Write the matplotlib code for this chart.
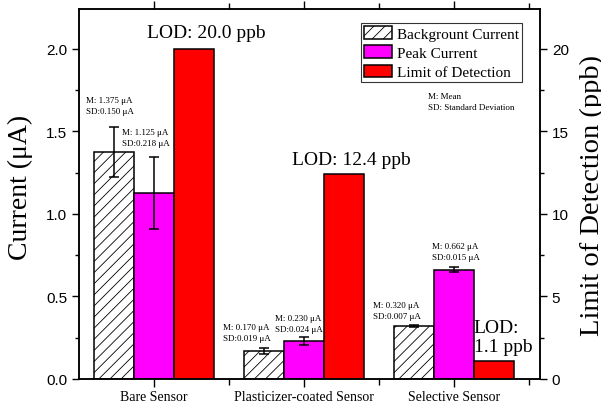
import numpy as np
import matplotlib
matplotlib.use("Agg")
import matplotlib.pyplot as plt
from matplotlib.ticker import MultipleLocator, FixedLocator

# data
sensors = ["Bare Sensor", "Plasticizer-coated Sensor", "Selective Sensor"]
bg_mean = [1.375, 0.170, 0.320]
bg_sd = [0.150, 0.019, 0.007]
peak_mean = [1.125, 0.230, 0.662]
peak_sd = [0.218, 0.024, 0.015]
lod = [20.0, 12.4, 1.1]

serif = "Liberation Serif"
sans = "Liberation Sans"
plt.rcParams["hatch.linewidth"] = 0.6
plt.rcParams["hatch.color"] = "#333333"

fig = plt.figure(figsize=(6.01, 4.02), dpi=100)
ax1 = fig.add_axes([79 / 601, 1 - 380 / 402, 461 / 601, 370 / 402])
ax2 = ax1.twinx()

x = np.arange(1, len(sensors) + 1)
w = 0.267

b1 = ax1.bar(x - w, bg_mean, w, color="white", edgecolor="black", hatch="///",
             linewidth=1.1, label="Backgrount Current")
b2 = ax1.bar(x, peak_mean, w, color="#ff00ff", edgecolor="black",
             linewidth=1.1, label="Peak Current")
ax1.errorbar(x - w, bg_mean, yerr=bg_sd, fmt="none", ecolor="black",
             elinewidth=1.1, capsize=3.5, capthick=1.1)
ax1.errorbar(x, peak_mean, yerr=peak_sd, fmt="none", ecolor="black",
             elinewidth=1.1, capsize=3.5, capthick=1.1)
b3 = ax2.bar(x + w, lod, w, color="#ff0000", edgecolor="black",
             linewidth=1.1, label="Limit of Detection")

ax1.set_xlim(0.5, 3.575)
ax1.set_ylim(0, 2.242)
ax2.set_ylim(0, 22.42)

# ticks
ax1.xaxis.set_major_locator(FixedLocator(x))
ax1.xaxis.set_minor_locator(FixedLocator(x + 0.5))
ax1.set_xticklabels(sensors, fontfamily=serif, fontsize=10)
ax1.yaxis.set_major_locator(MultipleLocator(0.5))
ax1.yaxis.set_minor_locator(MultipleLocator(0.25))
ax2.yaxis.set_major_locator(MultipleLocator(5))
ax2.yaxis.set_minor_locator(MultipleLocator(2.5))
ax1.yaxis.set_major_formatter(matplotlib.ticker.FormatStrFormatter("%.1f"))

ax1.tick_params(axis="x", which="major", direction="out", length=6, width=1,
                top=True, pad=2)
ax1.tick_params(axis="x", which="minor", direction="out", length=4, width=1,
                top=True)
ax1.tick_params(axis="y", which="major", direction="out", length=5, width=1,
                labelsize=11)
ax1.tick_params(axis="y", which="minor", direction="out", length=3, width=1)
ax2.tick_params(axis="y", which="major", direction="out", length=5, width=1,
                labelsize=11)
ax2.tick_params(axis="y", which="minor", direction="out", length=3, width=1)
for lab in ax1.get_yticklabels() + ax2.get_yticklabels():
    lab.set_fontfamily(sans)
for sp in list(ax1.spines.values()) + list(ax2.spines.values()):
    sp.set_linewidth(1.1)

ax1.set_ylabel("Current (μA)", fontfamily=serif, fontsize=20)
ax1.yaxis.set_label_coords(-0.1, 0.52)
ax2.set_ylabel("Limit of Detection (ppb)", fontfamily=serif, fontsize=20.5,
               labelpad=8)

# annotations
small = dict(fontfamily=serif, fontsize=6.5, ha="left", va="center",
             linespacing=1.5)
ann_pos = [(0.547, 1.655), (0.787, 1.461), (1.46, 0.282), (1.807, 0.339),
           (2.46, 0.418), (2.853, 0.770)]
texts = []
for m, s, pm, ps in zip(bg_mean, bg_sd, peak_mean, peak_sd):
    texts.append("M: %.3f μA\nSD:%.3f μA" % (m, s))
    texts.append("M: %.3f μA\nSD:%.3f μA" % (pm, ps))
for (tx, ty), t in zip(ann_pos, texts):
    ax1.text(tx, ty, t, **small)
ax1.text(2.827, 1.682, "M: Mean\nSD: Standard Deviation", **small)

big = dict(fontfamily=serif, fontsize=14, va="center")
ax2.text(1.347, 20.97, "LOD: %.1f ppb" % lod[0], ha="center", **big)
ax2.text(2.32, 13.33, "LOD: %.1f ppb" % lod[1], ha="center", **big)
ax2.text(3.133, 2.55, "LOD:\n%.1f ppb" % lod[2], ha="left", **big)

leg = ax2.legend(handles=[b1, b2, b3], loc="upper right",
                 bbox_to_anchor=(0.961, 0.962), prop={"family": serif, "size": 11},
                 frameon=True, fancybox=False, edgecolor="black",
                 handlelength=1.85, handleheight=0.9, labelspacing=0.3,
                 handletextpad=0.3, borderpad=0.2, borderaxespad=0)
leg.get_frame().set_linewidth(0.8)

fig.savefig("out.png", dpi=100)
